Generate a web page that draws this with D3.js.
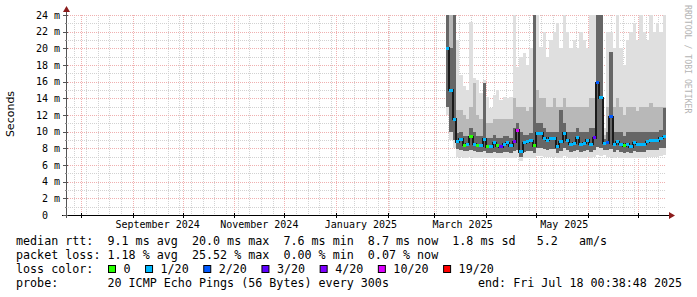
<!DOCTYPE html>
<html>
<head>
<meta charset="utf-8">
<script src="https://cdn.jsdelivr.net/npm/d3@7"></script>
<style>
body { margin: 0; background: #fff; }
svg { display: block; }
text { font-family: "DejaVu Sans Mono", monospace; fill: #000; }
</style>
</head>
<body>
<div id="chart"></div>
<script>
const width = 697, height = 297;
const plot = { left: 66, right: 666, top: 15, bottom: 215 };

// time window of the graph (360 days) and the data buckets (2 days each)
const startTime = new Date(Date.UTC(2024, 6, 23, 0, 38, 48));
const endTime = new Date(Date.UTC(2025, 6, 18, 0, 38, 48));
const dataStart = new Date(Date.UTC(2025, 2, 8, 0, 38, 48));
const bucketDays = 2;

// median rtt (ms) per bucket
const median = [20.0, 15.0, 11.5, 8.8, 9.1, 8.4, 8.5, 9.4, 8.5, 8.4,
  8.3, 9.1, 8.2, 8.2, 8.7, 8.3, 8.2, 8.5, 8.7, 8.3,
  8.8, 10.2, 7.6, 8.7, 8.8, 8.9, 8.3, 9.8, 9.8, 9.2,
  9.0, 9.2, 9.2, 8.2, 8.8, 9.8, 9.0, 8.5, 8.6, 9.3,
  8.5, 8.6, 9.0, 8.5, 9.3, 15.9, 14.1, 8.6, 8.7, 11.8,
  8.5, 8.8, 8.5, 8.3, 8.5, 8.2, 8.7, 8.5, 8.5, 8.5,
  8.8, 8.9, 8.9, 8.9, 9.2, 9.4];
// lost pings out of 20 per bucket
const lossCount = [1, 1, 1, 1, 1, 0, 1, 0, 1, 0,
  1, 1, 0, 1, 1, 0, 3, 1, 1, 1,
  4, 10, 1, 1, 1, 1, 0, 1, 1, 1,
  1, 1, 1, 1, 1, 1, 1, 1, 1, 1,
  1, 1, 1, 1, 3, 2, 1, 1, 2, 2,
  1, 1, 1, 0, 1, 1, 1, 1, 1, 1,
  1, 1, 1, 1, 1, 1];
// smoke: highest ping, upper mid band, upper dark band, lower dark band, lowest ping (ms)
const smokeMax = [25, 25, 25, 21, 16.8, 15.5, 15.0, 23.2, 16.5, 16.2,
  14.6, 16.2, 14.2, 12.8, 14.4, 15.0, 13.8, 14.2, 14.0, 14.2,
  25, 17.8, 19, 19.5, 18, 20, 25, 25, 20.2, 22,
  19, 21, 22, 23, 20, 25, 22, 20, 21, 20,
  22, 21, 20, 25, 25, 25, 25, 10.5, 22, 22,
  20, 25, 20, 18, 21, 22, 23, 21, 25, 22,
  21, 25, 22, 23, 22, 25];
const smokeHigh = [25, 25, 25, 12.6, 12.6, 12, 11.5, 13, 15.8, 12,
  11.5, 15.9, 11, 11, 11.5, 11.5, 11.5, 11.5, 11.5, 11.5,
  14, 13, 13, 13, 12.5, 13, 25, 15, 14, 14,
  13, 13, 14, 13, 13, 14, 13, 13, 13, 13,
  13, 13, 13, 14, 14, 25, 25, 9.6, 13, 19.6,
  13, 14, 13, 12, 13, 13, 13, 12.5, 13, 13,
  13, 13.5, 13, 13, 13, 13];
const smokeUpper = [25, 20, 25, 9.8, 10.0, 9.5, 9.5, 10.5, 10.0, 9.5,
  9.5, 15.9, 9.3, 9.2, 9.6, 9.3, 9.2, 9.5, 9.5, 9.3,
  10.5, 11, 10, 9.6, 9.6, 9.8, 25, 11, 11, 10.5,
  10, 10, 10, 10, 12.6, 11, 10, 10, 10, 10.5,
  10, 10, 10, 10.5, 10.5, 25, 25, 9.1, 10, 19.6,
  10, 10, 10, 9.5, 10, 10, 10, 10, 10, 10,
  10, 10, 10, 10, 10.2, 12.9];
const smokeLower = [13, 10, 9, 7.9, 7.8, 7.7, 7.7, 7.8, 7.7, 7.6,
  7.6, 7.7, 7.5, 7.5, 7.6, 7.5, 7.5, 7.6, 7.6, 7.5,
  7.7, 7.8, 7.0, 7.6, 7.7, 7.7, 7.5, 8.0, 8.0, 7.9,
  7.8, 7.9, 7.9, 7.5, 7.7, 8.0, 7.8, 7.6, 7.7, 7.8,
  7.6, 7.7, 7.8, 7.6, 7.8, 8.2, 8.0, 7.8, 7.8, 7.9,
  7.6, 7.8, 7.6, 7.5, 7.6, 7.4, 7.7, 7.6, 7.6, 7.6,
  7.8, 7.8, 7.8, 7.8, 8.0, 8.1];
const smokeMin = [12, 9, 8, 7.0, 7.0, 6.9, 6.9, 7.0, 6.9, 6.9,
  6.9, 6.9, 6.8, 6.8, 6.9, 6.8, 6.8, 6.9, 6.9, 6.8,
  6.9, 7.0, 6.5, 6.9, 6.9, 6.9, 6.8, 7.1, 7.1, 7.0,
  7.0, 7.0, 7.0, 6.8, 6.9, 7.1, 7.0, 6.9, 6.9, 7.0,
  6.9, 6.9, 7.0, 6.9, 7.0, 7.2, 7.1, 7.2, 7.0, 7.0,
  6.9, 7.0, 6.9, 6.8, 6.9, 6.8, 6.9, 6.9, 6.9, 6.9,
  7.0, 7.0, 7.0, 7.0, 7.1, 7.2];

const yTicks = [0, 2, 4, 6, 8, 10, 12, 14, 16, 18, 20, 22, 24];
const yTickLabels = ["0  ", "2 m", "4 m", "6 m", "8 m", "10 m", "12 m", "14 m", "16 m", "18 m", "20 m", "22 m", "24 m"];
const yMinorTicks = [1, 3, 5, 7, 9, 11, 13, 15, 17, 19, 21, 23];
const xLabelDates = ["2024-09-16", "2024-11-16", "2025-01-16", "2025-03-18", "2025-05-18"];
const xLabels = ["September 2024", "November 2024", "January 2025", "March 2025", "May 2025"];

const lossSteps = [0, 1, 2, 3, 4, 10, 19];
const lossLabels = ["0", "1/20", "2/20", "3/20", "4/20", "10/20", "19/20"];
const lossColors = ["#26ff00", "#00b8ff", "#0059ff", "#5e00ff", "#7e00ff", "#dd00ff", "#ff0000"];

const legendLines = [
  "median rtt:  9.1 ms avg  20.0 ms max  7.6 ms min  8.7 ms now  1.8 ms sd   5.2   am/s",
  "packet loss: 1.18 % avg  25.52 % max  0.00 % min  0.07 % now",
  "loss color:",
  "probe:       20 ICMP Echo Pings (56 Bytes) every 300s"
];
const endText = "end: Fri Jul 18 00:38:48 2025";

const day = 24 * 3600 * 1000;
const buckets = median.map((m, i) => ({
  t0: new Date(+dataStart + i * bucketDays * day),
  t1: new Date(+dataStart + (i + 1) * bucketDays * day),
  med: m, loss: lossCount[i],
  max: smokeMax[i], high: smokeHigh[i], upper: smokeUpper[i],
  lower: smokeLower[i], min: smokeMin[i]
}));
// step areas need a closing point
const stepData = buckets.concat([Object.assign({}, buckets[buckets.length - 1], { t0: buckets[buckets.length - 1].t1 })]);

const x = d3.scaleUtc().domain([startTime, endTime]).range([plot.left, plot.right]);
const y = d3.scaleLinear().domain([0, 24]).range([plot.bottom, plot.top]);

const lossColor = d3.scaleThreshold().domain(lossSteps.slice(1)).range(lossColors);

const svg = d3.select("#chart").append("svg")
  .attr("width", width)
  .attr("height", height);

svg.append("rect").attr("width", width).attr("height", height).attr("fill", "#fff");

const crisp = v => Math.round(v) + 0.5;

// grid
const grid = svg.append("g").attr("shape-rendering", "crispEdges");
yMinorTicks.forEach(v => {
  grid.append("line")
    .attr("x1", plot.left).attr("x2", plot.right)
    .attr("y1", crisp(y(v))).attr("y2", crisp(y(v)))
    .attr("stroke", "#d2d2d2").attr("stroke-dasharray", "1,1");
});
d3.utcSunday.range(startTime, endTime).forEach(t => {
  grid.append("line")
    .attr("x1", crisp(x(t))).attr("x2", crisp(x(t)))
    .attr("y1", plot.top).attr("y2", plot.bottom)
    .attr("stroke", "#d2d2d2").attr("stroke-dasharray", "1,1");
});
yTicks.slice(1).forEach(v => {
  grid.append("line")
    .attr("x1", plot.left).attr("x2", plot.right)
    .attr("y1", crisp(y(v))).attr("y2", crisp(y(v)))
    .attr("stroke", "#f0b0b0").attr("stroke-dasharray", "1,1");
});
d3.utcMonth.range(startTime, endTime).forEach(t => {
  grid.append("line")
    .attr("x1", crisp(x(t))).attr("x2", crisp(x(t)))
    .attr("y1", plot.top).attr("y2", plot.bottom)
    .attr("stroke", "#f0b0b0").attr("stroke-dasharray", "1,1");
});

// smoke
svg.append("clipPath").attr("id", "plotClip")
  .append("rect")
  .attr("x", plot.left).attr("y", plot.top)
  .attr("width", plot.right - plot.left).attr("height", plot.bottom - plot.top);

const smoke = svg.append("g").attr("clip-path", "url(#plotClip)").attr("shape-rendering", "crispEdges");
const band = (lo, hi) => d3.area()
  .curve(d3.curveStepAfter)
  .x(d => x(d.t0))
  .y0(d => y(d[lo]))
  .y1(d => y(d[hi]));

smoke.append("path").datum(stepData).attr("d", band("min", "max")).attr("fill", "#dfdfdf");
smoke.append("path").datum(stepData).attr("d", band("lower", "high")).attr("fill", "#b8b8b8");
smoke.append("path").datum(stepData).attr("d", band("lower", "upper")).attr("fill", "#666666");

// median: dark connecting line, then loss coloured pieces
smoke.append("path").datum(stepData)
  .attr("d", d3.line().curve(d3.curveStepAfter).x(d => x(d.t0)).y(d => y(d.med)))
  .attr("fill", "none").attr("stroke", "#1a1a1a").attr("stroke-width", 2);

smoke.selectAll(".med").data(buckets).join("line")
  .attr("class", "med")
  .attr("x1", d => x(d.t0)).attr("x2", d => x(d.t1))
  .attr("y1", d => y(d.med)).attr("y2", d => y(d.med))
  .attr("stroke", d => lossColor(d.loss))
  .attr("stroke-width", 3);

// axes
const axis = svg.append("g").attr("shape-rendering", "crispEdges");
axis.append("line")
  .attr("x1", plot.left - 4).attr("x2", plot.right + 4)
  .attr("y1", crisp(plot.bottom)).attr("y2", crisp(plot.bottom))
  .attr("stroke", "#000");
axis.append("line")
  .attr("x1", crisp(plot.left)).attr("x2", crisp(plot.left))
  .attr("y1", plot.bottom + 3).attr("y2", plot.top - 4)
  .attr("stroke", "#555");
yTicks.forEach(v => {
  axis.append("line")
    .attr("x1", plot.left - 3).attr("x2", plot.left + 2)
    .attr("y1", crisp(y(v))).attr("y2", crisp(y(v)))
    .attr("stroke", "#555");
});
yMinorTicks.forEach(v => {
  axis.append("line")
    .attr("x1", plot.left - 1).attr("x2", plot.left + 1)
    .attr("y1", crisp(y(v))).attr("y2", crisp(y(v)))
    .attr("stroke", "#888");
});
d3.utcMonth.range(startTime, endTime).forEach(t => {
  axis.append("line")
    .attr("x1", crisp(x(t))).attr("x2", crisp(x(t)))
    .attr("y1", plot.bottom - 2).attr("y2", plot.bottom + 3)
    .attr("stroke", "#000");
});
// arrows
svg.append("path")
  .attr("d", `M${plot.left - 3},${plot.top - 3}L${plot.left + 0.5},${plot.top - 9}L${plot.left + 4},${plot.top - 3}Z`)
  .attr("fill", "#8b1c1c");
svg.append("path")
  .attr("d", `M${plot.right + 3},${plot.bottom - 3}L${plot.right + 9},${plot.bottom + 0.5}L${plot.right + 3},${plot.bottom + 4}Z`)
  .attr("fill", "#8b1c1c");

// y labels
svg.selectAll(".ylab").data(yTicks).join("text")
  .attr("class", "ylab")
  .attr("x", plot.left - 6)
  .attr("y", d => y(d) + 3.5)
  .attr("text-anchor", "end")
  .style("white-space", "pre")
  .attr("font-size", "10px")
  .text((d, i) => yTickLabels[i]);

// x labels
svg.selectAll(".xlab").data(xLabelDates).join("text")
  .attr("class", "xlab")
  .attr("x", d => x(new Date(d + "T00:00:00Z")))
  .attr("y", 228)
  .attr("text-anchor", "middle")
  .attr("font-size", "10px")
  .text((d, i) => xLabels[i]);

svg.append("text")
  .attr("transform", "translate(14,114) rotate(-90)")
  .attr("text-anchor", "middle")
  .style("font-family", "'DejaVu Sans', sans-serif")
  .attr("font-size", "11px")
  .text("Seconds");

svg.append("text")
  .attr("transform", "translate(685,5) rotate(90)")
  .style("fill", "#b4b4b4")
  .attr("font-size", "8.2px")
  .text("RRDTOOL / TOBI OETIKER");

// legend
const legendY = [245, 259, 273, 287];
legendLines.forEach((s, i) => {
  svg.append("text")
    .attr("x", 16).attr("y", legendY[i])
    .attr("font-size", "11.7px")
    .style("white-space", "pre")
    .text(s);
});
svg.append("text")
  .attr("x", 478).attr("y", legendY[3])
  .attr("font-size", "11.7px")
  .style("white-space", "pre")
  .text(endText);

const charW = 7.05;
let lx = 108.5;
lossLabels.forEach((lab, i) => {
  svg.append("rect")
    .attr("x", lx).attr("y", 265.5)
    .attr("width", 7).attr("height", 7)
    .attr("fill", lossColors[i]).attr("stroke", "#000");
  svg.append("text")
    .attr("x", lx + 15).attr("y", legendY[2])
    .attr("font-size", "11.7px")
    .text(lab);
  lx += 15 + lab.length * charW + 15;
});
</script>
</body>
</html>
